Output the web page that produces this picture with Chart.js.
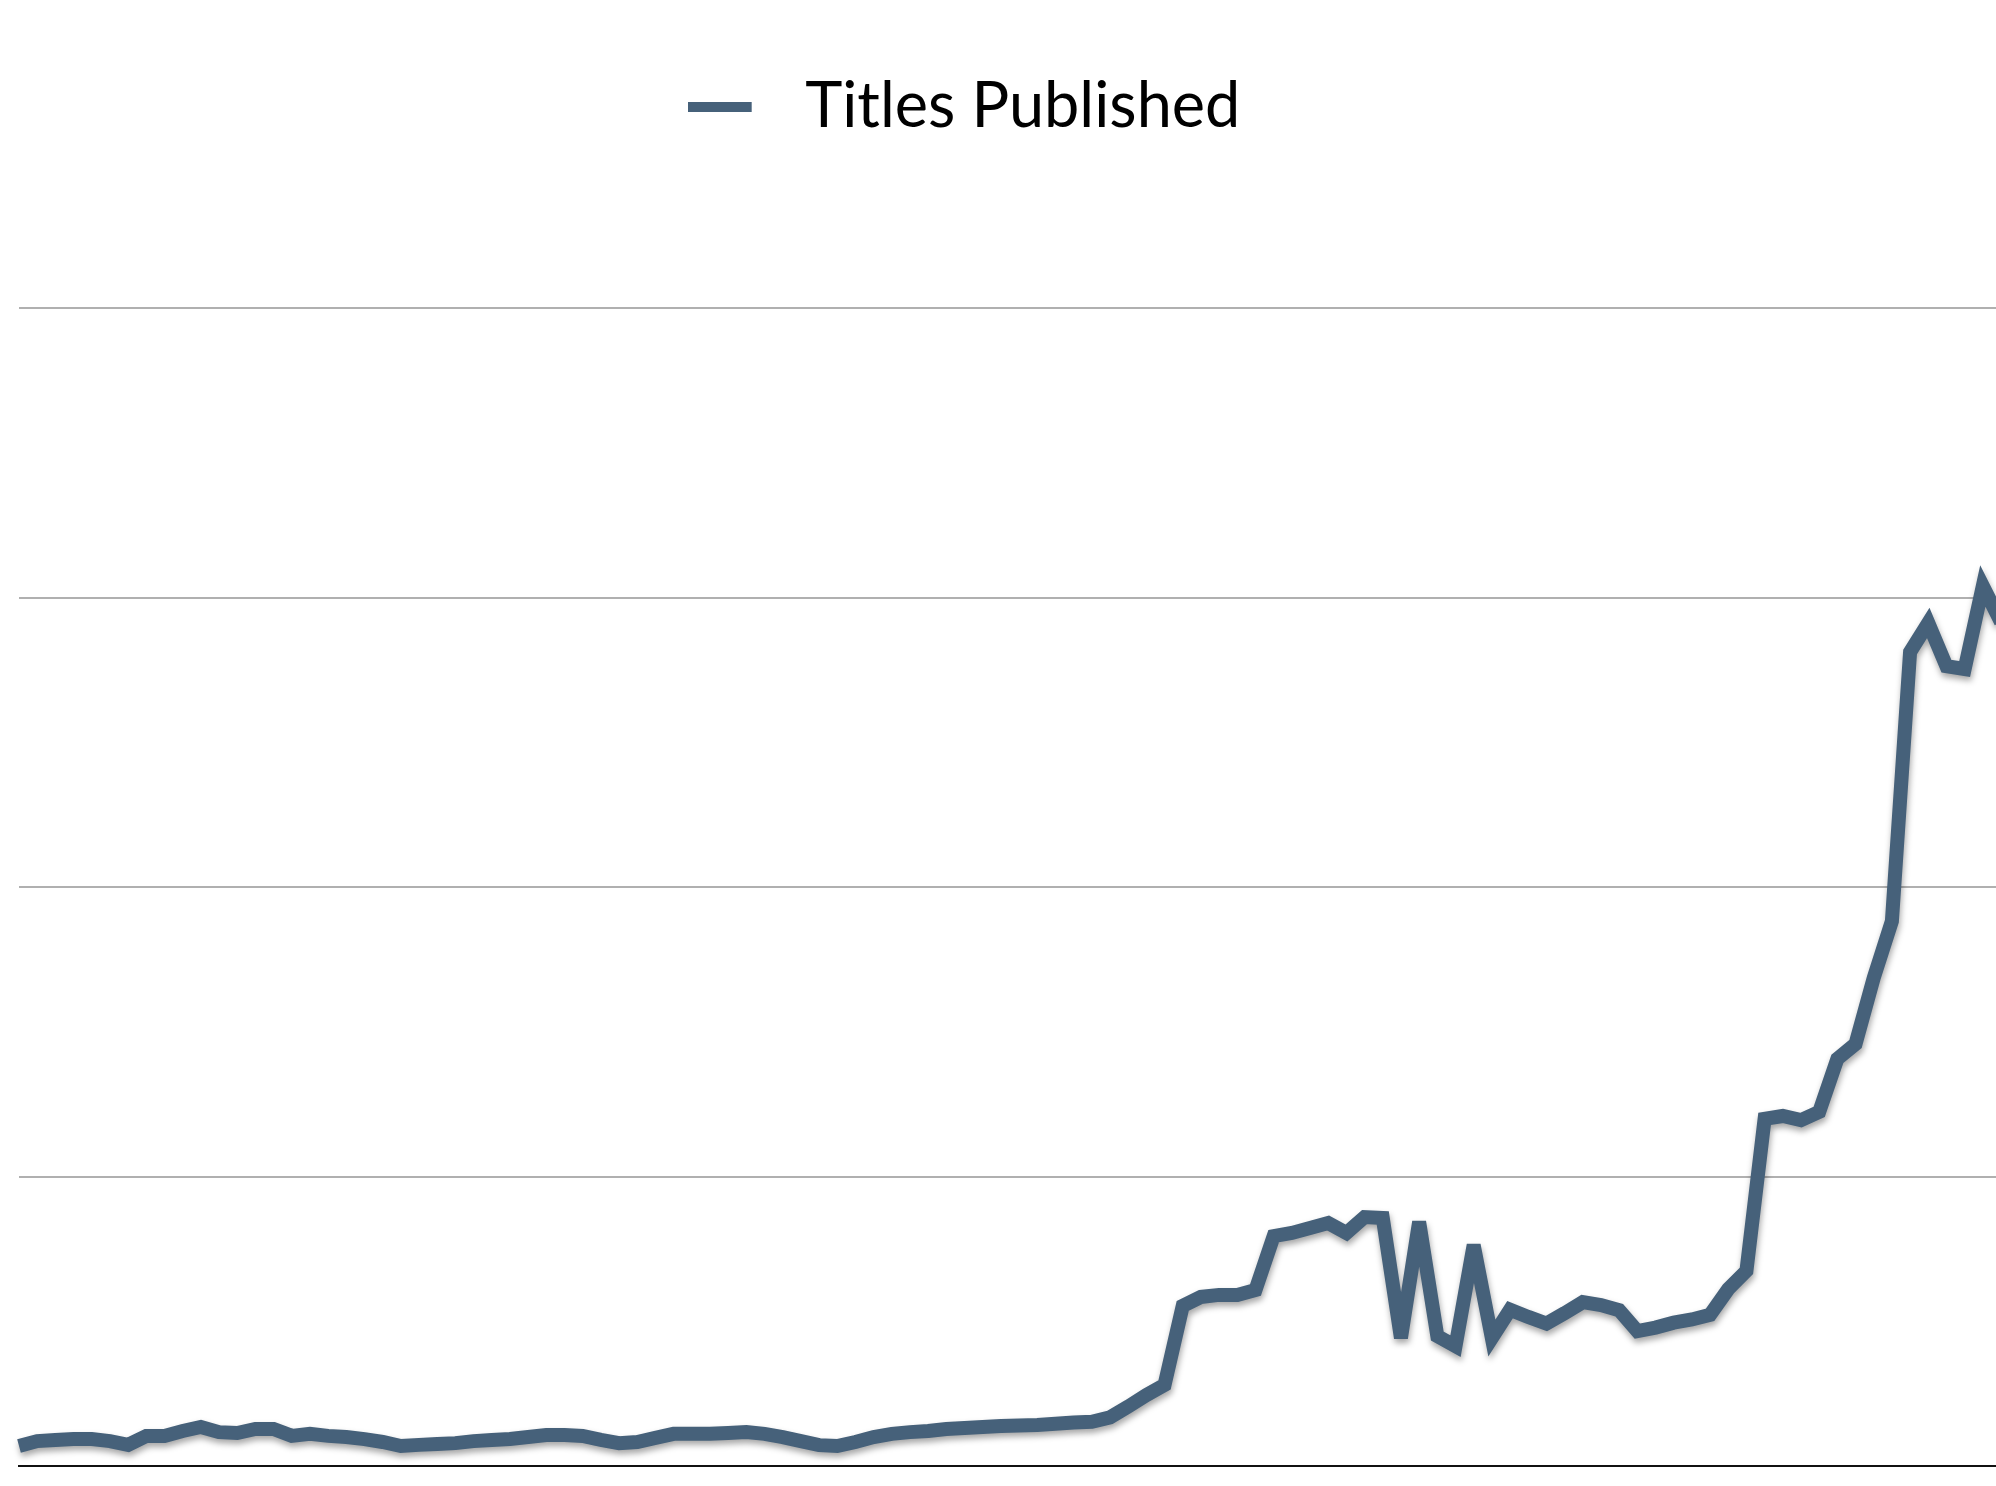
<!DOCTYPE html>
<html>
<head>
<meta charset="utf-8">
<script src="https://cdn.jsdelivr.net/npm/chart.js@4/dist/chart.umd.min.js"></script>
<style>
  html, body { margin: 0; padding: 0; background: #ffffff; overflow: hidden; width: 1996px; height: 1486px; }
  #wrap { position: absolute; left: -73px; top: 0; width: 2074px; height: 1486px; }
  canvas { display: block; }
</style>
</head>
<body>
<div id="wrap"><canvas id="c" width="2074" height="1486"></canvas></div>
<script>
// ---- data (x labels are not shown in it) ----
const years = [
  1900,1901,1902,1903,1904,1905,1906,1907,1908,1909,
  1910,1911,1912,1913,1914,1915,1916,1917,1918,1919,
  1920,1921,1922,1923,1924,1925,1926,1927,1928,1929,
  1930,1931,1932,1933,1934,1935,1936,1937,1938,1939,
  1940,1941,1942,1943,1944,1945,1946,1947,1948,1949,
  1950,1951,1952,1953,1954,1955,1956,1957,1958,1959,
  1960,1961,1962,1963,1964,1965,1966,1967,1968,1969,
  1970,1971,1972,1973,1974,1975,1976,1977,1978,1979,
  1980,1981,1982,1983,1984,1985,1986,1987,1988,1989,
  1990,1991,1992,1993,1994,1995,1996,1997,1998,1999,
  2000,2001,2002,2003,2004,2005,2006,2007,2008,2009
];
const titlesPublished = [
  69, 86, 90, 93, 93, 86, 73, 104, 104, 121,
  135, 117, 114, 128, 128, 104, 111, 104, 100, 93,
  83, 69, 73, 76, 79, 86, 90, 93, 100, 107,
  107, 104, 90, 79, 83, 97, 111, 111, 111, 114,
  117, 111, 100, 86, 72, 69, 83, 100, 111, 117,
  121, 128, 131, 135, 138, 140, 142, 146, 150, 153,
  168, 205, 245, 280, 553, 584, 591, 591, 608, 794,
  805, 822, 839, 805, 860, 857, 442, 843, 449, 414,
  763, 442, 540, 515, 492, 528, 566, 556, 538, 466,
  478, 495, 506, 522, 611, 674, 1199, 1209, 1195, 1223,
  1406, 1458, 1686, 1882, 2812, 2912, 2763, 2753, 3040, 2915
];
const seriesName = 'Titles Published';
const yMin = 0, yMax = 4000, yStep = 1000;

const lineColor = '#46617a';

// legend marker: a short bar followed by blank space
const marker = document.createElement('canvas');
marker.width = 86; marker.height = 10;
(function () {
  const m = marker.getContext('2d');
  m.fillStyle = lineColor;
  m.fillRect(0, 0, 64, 10);
})();

const shadowPlugin = {
  id: 'lineShadow',
  beforeDatasetsDraw(chart) {
    const ctx = chart.ctx;
    ctx.save();
    ctx.miterLimit = 3;
    ctx.shadowColor = 'rgba(0,0,0,0.35)';
    ctx.shadowBlur = 6;
    ctx.shadowOffsetX = 1;
    ctx.shadowOffsetY = 4;
  },
  afterDatasetsDraw(chart) {
    chart.ctx.restore();
  }
};

const legendSpacer = {
  id: 'legendSpacer',
  beforeInit(chart) {
    const lg = chart.legend;
    if (!lg) return;
    const origFit = lg.fit;
    lg.fit = function () {
      origFit.call(this);
      this.height += 159.5;
    };
  }
};

new Chart(document.getElementById('c'), {
  type: 'line',
  data: {
    labels: years,
    datasets: [{
      label: seriesName,
      data: titlesPublished,
      borderColor: lineColor,
      backgroundColor: lineColor,
      borderWidth: 14,
      borderJoinStyle: 'miter',
      borderCapStyle: 'butt',
      pointRadius: 0,
      pointHoverRadius: 0,
      tension: 0,
      fill: false
    }]
  },
  options: {
    responsive: false,
    animation: false,
    devicePixelRatio: 1,
    layout: { padding: { top: 65.5, left: 0, right: 0, bottom: 0 } },
    plugins: {
      tooltip: { enabled: false },
      title: { display: false },
      legend: {
        display: true,
        position: 'top',
        align: 'center',
        labels: {
          usePointStyle: true,
          pointStyleWidth: 86,
          boxHeight: 10,
          padding: 10,
          color: '#000000',
          font: { family: 'Lato, "Open Sans", sans-serif', size: 63, weight: 'normal' },
          generateLabels(chart) {
            return chart.data.datasets.map((ds, i) => ({
              text: ds.label,
              fillStyle: lineColor,
              strokeStyle: lineColor,
              lineWidth: 0,
              pointStyle: marker,
              hidden: false,
              datasetIndex: i,
              fontColor: '#000000'
            }));
          }
        }
      }
    },
    scales: {
      x: {
        type: 'category',
        offset: false,
        grid: { display: false, drawTicks: false },
        ticks: { display: false },
        border: { display: true, color: '#111111', width: 2 },
        afterFit(scale) { scale.height = 20; }
      },
      y: {
        min: yMin,
        max: yMax,
        ticks: { display: false, stepSize: yStep },
        grid: { display: true, color: '#b0b0b0', lineWidth: 2, drawTicks: false },
        border: { display: false },
        afterFit(scale) { scale.width = 92; }
      }
    }
  },
  plugins: [shadowPlugin, legendSpacer]
});
</script>
</body>
</html>
